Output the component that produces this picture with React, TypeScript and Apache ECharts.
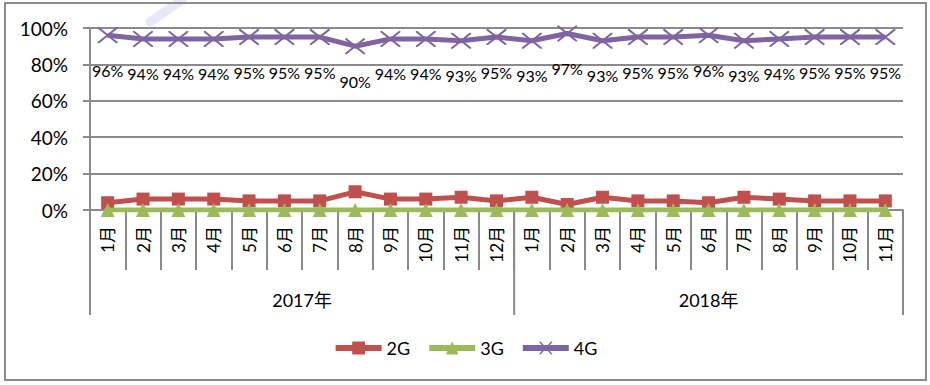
import React, { useEffect, useRef } from "react";
import * as echarts from "echarts";

const months = [
  "1月", "2月", "3月", "4月", "5月", "6月", "7月", "8月", "9月", "10月", "11月", "12月",
  "1月", "2月", "3月", "4月", "5月", "6月", "7月", "8月", "9月", "10月", "11月",
];
const years = ["2017年", "2018年"];
const yearCounts = [12, 11];

const s2G = [4, 6, 6, 6, 5, 5, 5, 10, 6, 6, 7, 5, 7, 3, 7, 5, 5, 4, 7, 6, 5, 5, 5];
const s3G = [0, 0, 0, 0, 0, 0, 0, 0, 0, 0, 0, 0, 0, 0, 0, 0, 0, 0, 0, 0, 0, 0, 0];
const s4G = [96, 94, 94, 94, 95, 95, 95, 90, 94, 94, 93, 95, 93, 97, 93, 95, 95, 96, 93, 94, 95, 95, 95];

const FONT = 'Lato, "Noto Sans CJK SC", sans-serif';
const GRID = "#8a8a8a";
const X_SYMBOL =
  "path://M0,0 L1.6,0 L10,8.4 L18.4,0 L20,0 L20,1.6 L11.6,10 L20,18.4 L20,20 L18.4,20 L10,11.6 L1.6,20 L0,20 L0,18.4 L8.4,10 L0,1.6 Z";

export default function App() {
  const ref = useRef<HTMLDivElement>(null);
  useEffect(() => {
    document.body.style.margin = "0";
    const chart = echarts.init(ref.current!, null, { renderer: "svg" });
    const option: any = {
      animation: false,
      backgroundColor: "#ffffff",
      textStyle: { fontFamily: FONT },
      grid: { left: 90, right: 27, top: 28, height: 182, containLabel: false },
      legend: {
        bottom: 23,
        left: "center",
        itemWidth: 46,
        itemHeight: 16,
        itemGap: 16,
        lineStyle: { width: 6 },
        textStyle: { fontSize: 18, color: "#000", fontFamily: FONT },
        data: ["2G", "3G", "4G"],
      },
      xAxis: {
        type: "category",
        data: months,
        boundaryGap: true,
        axisLine: { lineStyle: { color: GRID, width: 2 } },
        axisTick: { show: true, length: 60, lineStyle: { color: GRID, width: 2 } },
        axisLabel: {
          rotate: 90,
          interval: 0,
          margin: 16,
          fontSize: 17,
          color: "#000",
          fontFamily: FONT,
        },
      },
      yAxis: {
        type: "value",
        min: 0,
        max: 100,
        interval: 20,
        axisLine: { show: true, lineStyle: { color: GRID, width: 2 } },
        axisTick: { show: true, length: 7, lineStyle: { color: GRID, width: 2 } },
        splitLine: { lineStyle: { color: GRID, width: 2 } },
        axisLabel: {
          formatter: "{value}%",
          fontSize: 19,
          color: "#000",
          margin: 22,
          fontFamily: FONT,
        },
      },
      series: [
        {
          name: "2G",
          type: "line",
          data: s2G,
          symbol: "rect",
          symbolSize: 13,
          lineStyle: { width: 5, color: "#C0504D" },
          itemStyle: { color: "#C0504D" },
          z: 3,
        },
        {
          name: "3G",
          type: "line",
          data: s3G,
          symbol: "triangle",
          symbolSize: 14,
          lineStyle: { width: 5, color: "#9BBB59" },
          itemStyle: { color: "#9BBB59" },
          z: 4,
        },
        {
          name: "4G",
          type: "line",
          data: s4G,
          symbol: X_SYMBOL,
          symbolSize: [20, 16],
          lineStyle: { width: 5, color: "#8064A2" },
          itemStyle: { color: "#8064A2" },
          label: {
            show: true,
            position: "bottom",
            distance: 19,
            formatter: "{c}%",
            fontSize: 16,
            color: "#000",
            fontFamily: FONT,
          },
          z: 5,
        },
      ],
    };
    chart.setOption(option);

    const c0 = chart.convertToPixel({ xAxisIndex: 0 }, 0) as number;
    const c1 = chart.convertToPixel({ xAxisIndex: 0 }, 1) as number;
    const step = c1 - c0;
    const start = c0 - step / 2;
    const y0 = chart.convertToPixel({ yAxisIndex: 0 }, 0) as number;
    const elements: any[] = [];
    let acc = 0;
    const bounds = [0];
    yearCounts.forEach((n) => {
      acc += n;
      bounds.push(acc);
    });
    bounds.forEach((b) => {
      const x = start + b * step;
      elements.push({
        type: "line",
        shape: { x1: x, y1: y0, x2: x, y2: y0 + 105 },
        style: { stroke: GRID, lineWidth: 2 },
        silent: true,
      });
    });
    years.forEach((yr, i) => {
      const xm = start + ((bounds[i] + bounds[i + 1]) / 2) * step;
      elements.push({
        type: "text",
        x: xm,
        y: y0 + 90,
        style: {
          text: yr,
          fontSize: 18,
          fontFamily: FONT,
          fill: "#000",
          align: "center",
          verticalAlign: "middle",
        },
        silent: true,
      });
    });
    elements.push({
      type: "rect",
      shape: { x: 5, y: 3, width: 921, height: 377 },
      style: { fill: "none", stroke: "#8c8c8c", lineWidth: 2 },
      silent: true,
    });
    elements.push({
      type: "line",
      shape: { x1: 182, y1: 0, x2: 150, y2: 22 },
      style: { stroke: "#e6e8f3", lineWidth: 9, lineCap: "round" },
      silent: true,
      z: -1,
    });
    chart.setOption({ graphic: { elements } });

    return () => chart.dispose();
  }, []);
  return <div ref={ref} style={{ width: 930, height: 385, position: "fixed", left: 0, top: 0 }} />;
}
